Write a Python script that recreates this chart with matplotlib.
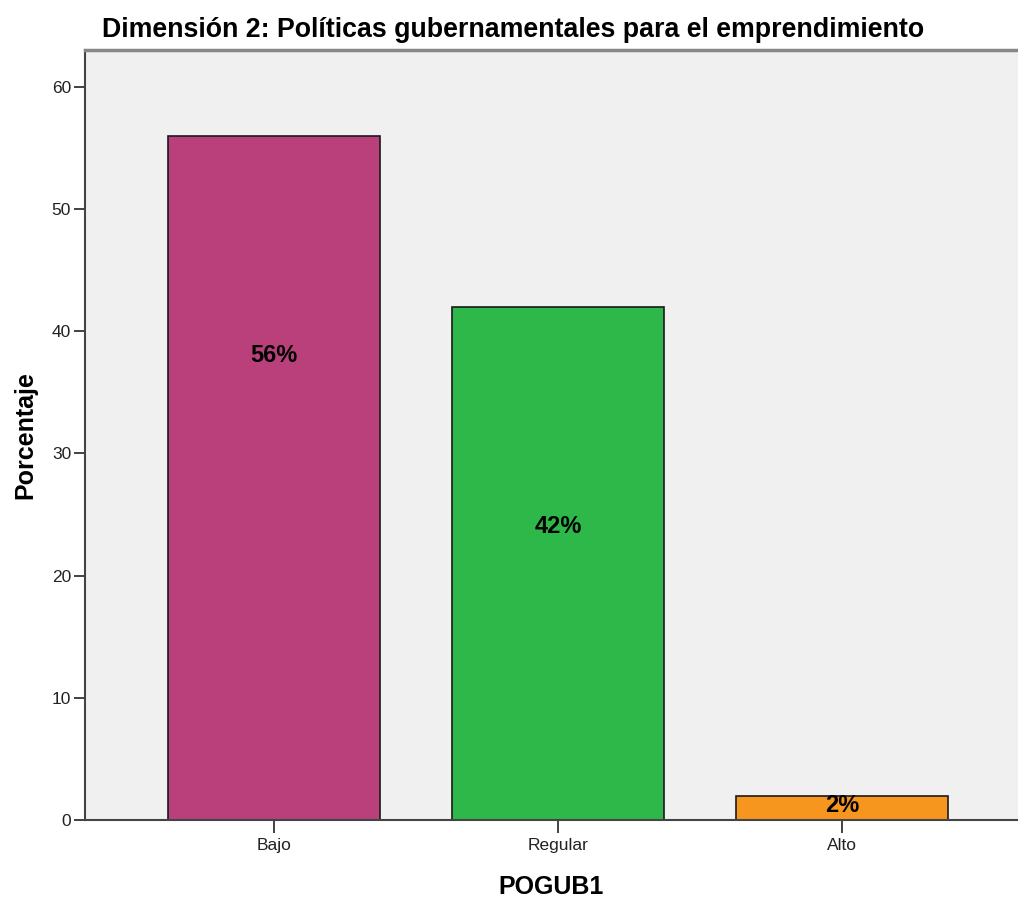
import matplotlib.pyplot as plt
import numpy as np

# frequency table for POGUB1 (percent)
categorias = ['Bajo', 'Regular', 'Alto']
porcentajes = [56, 42, 2]
colores = ['#b9407a', '#2fb84a', '#f7961e']
y_ticks = [0, 10, 20, 30, 40, 50, 60]

plt.rcParams['font.family'] = ['Liberation Sans', 'DejaVu Sans']

fig = plt.figure(figsize=(10.18, 9.02), dpi=100)
ax = fig.add_axes([0.0835, 0.0909, 0.9165, 0.8537])
ax.set_facecolor('#f0f0f0')

x = np.arange(len(categorias))
bars = ax.bar(x, porcentajes, width=0.746, color=colores,
              edgecolor='#1a1a1a', linewidth=1.2, zorder=2)

# percentage labels inside the bars
for xi, v in zip(x, porcentajes):
    ax.text(xi, max(v - 18, 1.2), f'{v}%', ha='center', va='center',
            fontsize=17, fontweight='bold', color='black', zorder=3)

ax.set_xlim(-0.665, 2.62)
ax.set_ylim(0, 63.0)
ax.set_xticks(x)
ax.set_xticklabels(categorias, fontsize=12.5, color='#222222')
ax.set_yticks(y_ticks)
ax.set_yticklabels([str(t) for t in y_ticks], fontsize=12.5, color='#222222')
ax.tick_params(axis='x', length=9, width=1.3, color='#333333', pad=4)
ax.tick_params(axis='y', length=8, width=1.3, color='#333333', pad=2)

ax.spines['left'].set_color('#444444')
ax.spines['left'].set_linewidth(1.5)
ax.spines['bottom'].set_color('#444444')
ax.spines['bottom'].set_linewidth(1.5)
ax.spines['top'].set_color('#888888')
ax.spines['top'].set_linewidth(2.5)
ax.spines['right'].set_visible(False)

ax.set_ylabel('Porcentaje', fontsize=18, fontweight='bold', labelpad=10)
ax.set_xlabel('POGUB1', fontsize=18, fontweight='bold', labelpad=16)

fig.text(0.504, 0.9665, 'Dimensión 2: Políticas gubernamentales para el emprendimiento',
         ha='center', va='center', fontsize=19.3, fontweight='bold')

fig.savefig('out.png', dpi=100)
